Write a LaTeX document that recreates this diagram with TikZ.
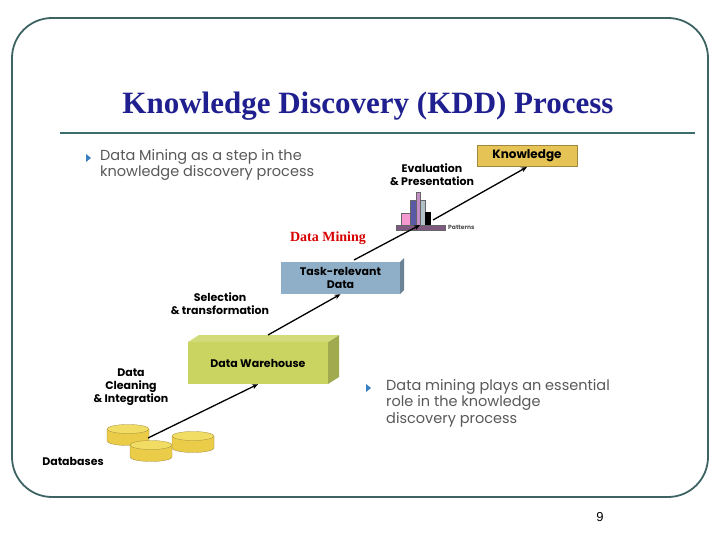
\documentclass[tikz,border=0pt]{standalone}
\usepackage{fontspec}
\setmainfont{Liberation Serif}
\newfontfamily\gothic{Poppins}
\newfontfamily\arial{Liberation Sans}
\usetikzlibrary{arrows.meta,shadings}
\definecolor{frame}{HTML}{3E6363}
\definecolor{titleblue}{HTML}{1F1F8F}
\definecolor{rulecol}{HTML}{3C6E6E}
\definecolor{gold}{HTML}{E6C355}
\definecolor{taskc}{HTML}{8FAFC8}
\definecolor{dwc}{HTML}{C9D461}
\definecolor{bulletc}{HTML}{3A7FC0}
\tikzset{
 lbl/.style={font=\gothic\bfseries\fontsize{11}{13}\selectfont, align=center, inner sep=0pt},
 body/.style={font=\gothic\fontsize{14.5}{16.5}\selectfont, text=black!65, align=left, anchor=north west, inner sep=0pt},
 flow/.style={-{Stealth[length=6pt,width=5pt]}, line width=1.3pt},
 cyl/.style={fill=gold!85!yellow, draw=gold!70!black, line width=0.3pt},
 blt/.style={fill=bulletc, draw=none},
}
\begin{document}
\begin{tikzpicture}[x=1pt,y=-1pt]
\useasboundingbox (0,0) rectangle (720,540);
\fill[white] (0,0) rectangle (720,540);
\draw[frame, line width=1.8pt, rounded corners=40pt] (12,18) rectangle (708,497);
\node[font=\bfseries\fontsize{31}{34}\selectfont, text=titleblue] (title) at (368,106) {Knowledge Discovery (KDD) Process};
\draw[rulecol, line width=2.5pt] (60,133) -- (695,133);
% bullet 1
\fill[blt] (86,154) -- (91,158) -- (86,162) -- cycle;
\node[body] (b1) at (100,149) {Data Mining as a step in the\\knowledge discovery process};
% bullet 2
\fill[blt] (366,384) -- (371,388) -- (366,392) -- cycle;
\node[body] (b2) at (386,379) {Data mining plays an essential\\role in the knowledge\\discovery process};
% Knowledge box
\node[draw=gold!70!black, fill=gold, minimum width=100pt, minimum height=21pt, lbl, font=\gothic\bfseries\fontsize{12}{13}\selectfont] (know) at (527,155.5) {Knowledge};
\coordinate (kin) at (527,167);
\node[lbl] (eval) at (432,175) {Evaluation\\\& Presentation};
% patterns
\coordinate (pat) at (420,225);
\fill[violet!30!gray, draw=black!60, line width=0.3pt] (396,225) rectangle (445,230);
\fill[magenta!40, draw=black!60, line width=0.3pt] (401,213) rectangle (410,225);
\fill[blue!30!gray, draw=black!60, line width=0.3pt] (410,200) rectangle (416,225);
\fill[violet!45, draw=black!60, line width=0.3pt] (416,192) rectangle (420,225);
\fill[cyan!20!gray!60, draw=black!60, line width=0.3pt] (420,200) rectangle (425,225);
\fill[black] (425,212) rectangle (431,225);
\node[font=\gothic\bfseries\fontsize{6}{7}\selectfont, text=black!70, anchor=west, inner sep=0pt] (patl) at (448,227) {Patterns};
\coordinate (pout) at (433,220);
\draw[flow] (pout) -- (kin);
% Data Mining
\node[font=\bfseries\fontsize{14}{15}\selectfont, text=red!85!black] (dm) at (328,238) {Data Mining};
% task box
\fill[taskc!75!black] (400,262) -- (404,258) -- (404,290) -- (400,294) -- cycle;
\node[fill=taskc, minimum width=119pt, minimum height=32pt, lbl] (task) at (340.5,278) {Task-relevant\\Data};
\coordinate (tout) at (354,260);
\draw[flow] (tout) -- (pat);
\node[lbl] (sel) at (220,304) {Selection\\\& transformation};
% DW
\fill[dwc!80!black] (328,342) -- (339,335) -- (339,377) -- (328,384) -- cycle;
\fill[dwc!85!white] (188,342) -- (199,335) -- (339,335) -- (328,342) -- cycle;
\node[fill=dwc, minimum width=140pt, minimum height=42pt, lbl] (dw) at (258,363) {Data Warehouse};
\coordinate (dwout) at (268,335);
\draw[flow] (dwout) -- (task.south);
\node[lbl] (clean) at (131,387) {Data\\Cleaning\\\& Integration};
% cylinders
\foreach \n/\cx/\cy in {c1/128/429, c3/193/436, c2/151/445}{
 \fill[cyl] (\cx-21,\cy) -- (\cx-21,\cy+12) arc[start angle=180,end angle=0,x radius=21,y radius=4.5] -- (\cx+21,\cy) -- cycle;
 \draw[cyl, fill=gold!70!yellow!80!white] (\cx,\cy) ellipse[x radius=21,y radius=4.5];
 \coordinate (\n) at (\cx,\cy);
}
\coordinate (cout) at (148,438);
\draw[flow] (cout) -- (dw.south);
\node[font=\gothic\bfseries\fontsize{11}{12}\selectfont, inner sep=0pt] (db) at (73,461) {Databases};
\node[font=\arial\fontsize{13}{14}\selectfont] (pg) at (600,517) {9};
\end{tikzpicture}
\end{document}
